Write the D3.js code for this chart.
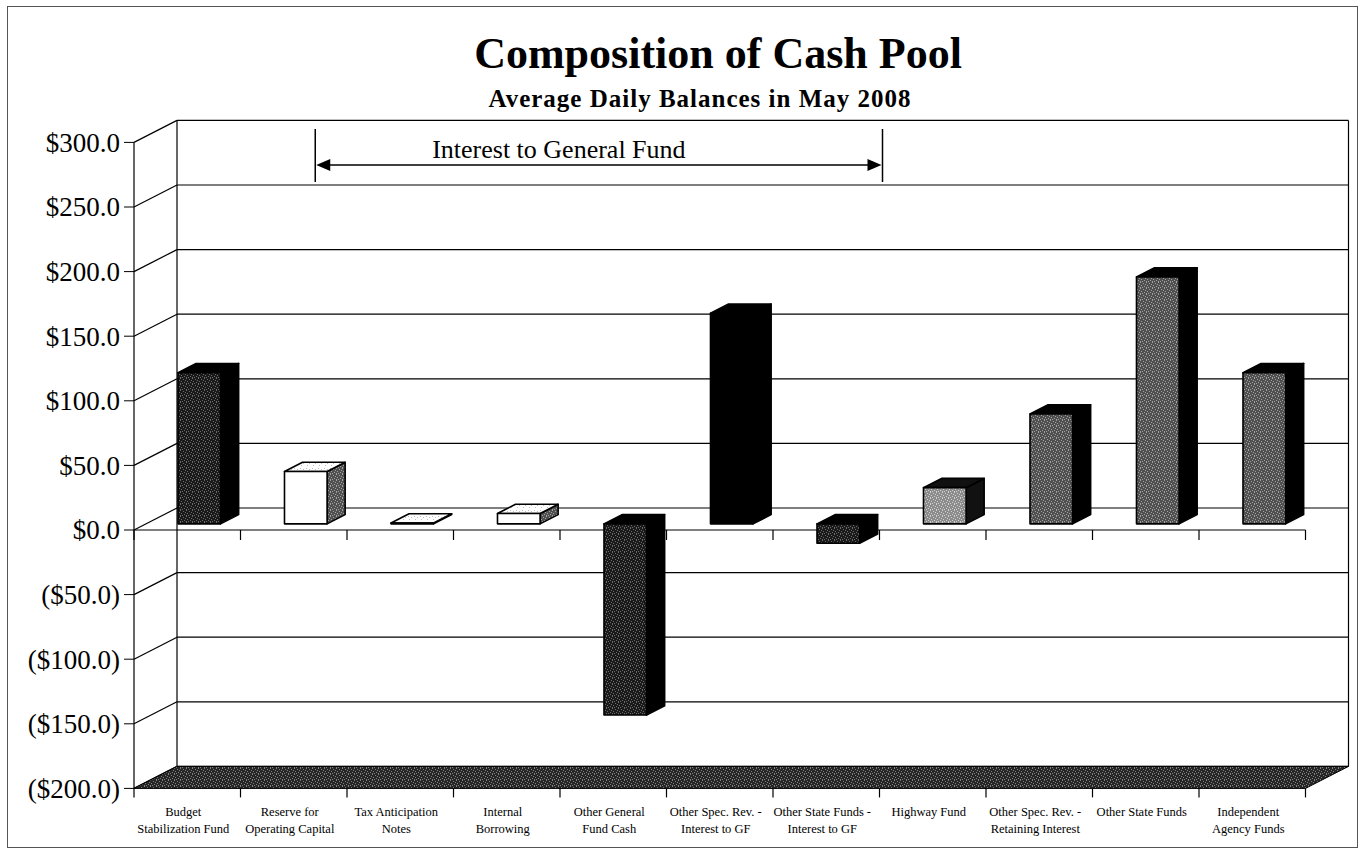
<!DOCTYPE html>
<html>
<head>
<meta charset="utf-8">
<script src="https://cdn.jsdelivr.net/npm/d3@7"></script>
<style>
  body { margin: 0; background: #fff; }
  text { font-family: "Liberation Serif", "Times New Roman", serif; fill: #000; }
</style>
</head>
<body>
<div id="chart"></div>
<script>
/* global d3 */

// ---- data (millions of dollars) ----
var categories = [
    ["Budget", "Stabilization Fund"],
    ["Reserve for", "Operating Capital"],
    ["Tax Anticipation", "Notes"],
    ["Internal", "Borrowing"],
    ["Other General", "Fund Cash"],
    ["Other Spec. Rev. -", "Interest to GF"],
    ["Other State Funds -", "Interest to GF"],
    ["Highway Fund"],
    ["Other Spec. Rev. -", "Retaining Interest"],
    ["Other State Funds"],
    ["Independent", "Agency Funds"]
];
var balances = [117, 40.5, 0.6, 8, -148, 163, -15, 28, 85, 191, 117];
var yTicks = [-200, -150, -100, -50, 0, 50, 100, 150, 200, 250, 300];

// fill styles per bar: front / top / side
var frontFill = ["dark", "#fff", "#fff", "#fff", "dark", "#000", "dark", "light", "mid", "mid", "mid"];
var topFill   = ["#000", "pale", "pale", "pale", "#000", "#000", "#000", "#111", "#000", "#000", "#000"];
var sideFill  = ["#000", "mid", "mid", "mid", "#000", "#000", "#000", "#111", "#000", "#000", "#000"];

var w = 1361,
    h = 850;

// depth of the 3d box, and where bars sit inside it
var dx = 43, dy = -22;
var f1 = 0.28, f2 = 0.70;

var svg = d3.select("#chart").append("svg")
    .attr("width", w)
    .attr("height", h);

//////// speckle textures ////////
var defs = svg.append("defs");
var speckles = {
    dark:  ["#1a1a1a", "#6a6a6a"],
    mid:   ["#505050", "#a0a0a0"],
    light: ["#8c8c8c", "#d0d0d0"],
    pale:  ["#ffffff", "#bdbdbd"],
    floor: ["#262626", "#808080"]
};
var dots = [[0, 0], [3, 1], [1, 3], [4, 4], [2, 5], [5, 2], [0, 5]];
Object.keys(speckles).forEach(function(k) {
    var p = defs.append("pattern")
        .attr("id", "sp-" + k)
        .attr("width", 6)
        .attr("height", 6)
        .attr("patternUnits", "userSpaceOnUse");
    p.append("rect").attr("width", 6).attr("height", 6).attr("fill", speckles[k][0]);
    p.selectAll("rect.dot")
        .data(k == "pale" ? dots.slice(0, 3) : dots)
        .enter().append("rect")
        .attr("class", "dot")
        .attr("x", function(d) { return d[0]; })
        .attr("y", function(d) { return d[1]; })
        .attr("width", 1)
        .attr("height", 1)
        .attr("fill", speckles[k][1]);
});
function fill(c) {
    return speckles[c] ? "url(#sp-" + c + ")" : c;
}

//////// scales ////////
var left = 134, right = 1305.5;
var edges = d3.scaleBand().domain(d3.range(categories.length)).range([left, right]);
var x = d3.scaleBand().domain(d3.range(categories.length)).range([left, right])
    .paddingInner(0.6).paddingOuter(0.3);
var y = d3.scaleLinear().domain([-200, 300]).range([788.4, 142.4]);

// outer frame
svg.append("rect")
    .attr("x", 7.5).attr("y", 6.5)
    .attr("width", 1350).attr("height", 841)
    .attr("fill", "none")
    .attr("stroke", "#555")
    .attr("stroke-width", 1);

//////// walls ////////
var wall = svg.append("g").attr("stroke", "#000").attr("stroke-width", 1.2).attr("fill", "none");

// back wall gridlines
wall.selectAll("line.grid")
    .data(yTicks)
    .enter().append("line")
    .attr("class", "grid")
    .attr("x1", left + dx).attr("x2", right + dx)
    .attr("y1", function(d) { return y(d) + dy; })
    .attr("y2", function(d) { return y(d) + dy; });

// back wall right edge + left edge
wall.append("line")
    .attr("x1", right + dx).attr("x2", right + dx)
    .attr("y1", y(300) + dy).attr("y2", y(-200) + dy);
wall.append("line")
    .attr("x1", left + dx).attr("x2", left + dx)
    .attr("y1", y(300) + dy).attr("y2", y(-200) + dy);

// side wall diagonals
wall.selectAll("line.side")
    .data(yTicks)
    .enter().append("line")
    .attr("class", "side")
    .attr("x1", left).attr("x2", left + dx)
    .attr("y1", function(d) { return y(d); })
    .attr("y2", function(d) { return y(d) + dy; });

// floor
svg.append("polygon")
    .attr("points", [
        [left, y(-200)], [left + dx, y(-200) + dy],
        [right + dx, y(-200) + dy], [right, y(-200)]
    ].join(" "))
    .attr("fill", fill("floor"))
    .attr("stroke", "#000")
    .attr("stroke-width", 1);

// value axis (front)
var yAxis = svg.append("g");
yAxis.append("line")
    .attr("x1", left).attr("x2", left)
    .attr("y1", y(300)).attr("y2", y(-200))
    .attr("stroke", "#000").attr("stroke-width", 1.2);
yAxis.selectAll("line.tick")
    .data(yTicks)
    .enter().append("line")
    .attr("class", "tick")
    .attr("x1", left - 10).attr("x2", left)
    .attr("y1", function(d) { return y(d); })
    .attr("y2", function(d) { return y(d); })
    .attr("stroke", "#000");
var money = d3.format(",.1f");
yAxis.selectAll("text")
    .data(yTicks)
    .enter().append("text")
    .attr("x", left - 14)
    .attr("y", function(d) { return y(d); })
    .attr("dy", "0.35em")
    .attr("text-anchor", "end")
    .style("font-size", "27px")
    .text(function(d) { return d < 0 ? "($" + money(-d) + ")" : "$" + money(d); });

// category axis line at zero
var xAxis = svg.append("g").attr("stroke", "#000").attr("stroke-width", 1.2);
xAxis.append("line")
    .attr("x1", left).attr("x2", right)
    .attr("y1", y(0)).attr("y2", y(0));
xAxis.selectAll("line.tick")
    .data(d3.range(categories.length + 1))
    .enter().append("line")
    .attr("class", "tick")
    .attr("x1", function(i) { return left + i * edges.step(); })
    .attr("x2", function(i) { return left + i * edges.step(); })
    .attr("y1", y(0)).attr("y2", y(0) + 10);

// ticks below floor
svg.append("g").attr("stroke", "#000").attr("stroke-width", 1.2)
    .selectAll("line")
    .data(d3.range(categories.length + 1))
    .enter().append("line")
    .attr("x1", function(i) { return left + i * edges.step(); })
    .attr("x2", function(i) { return left + i * edges.step(); })
    .attr("y1", y(-200)).attr("y2", y(-200) + 9);

//////// bars ////////
var bw = x.bandwidth();
var ox = (f2 - f1) * dx, oy = (f2 - f1) * dy;

var bars = svg.selectAll("g.bar")
    .data(balances)
    .enter().append("g")
    .attr("class", "bar")
    .attr("stroke", "#000")
    .attr("stroke-width", 1.6)
    .attr("stroke-linejoin", "round");

bars.each(function(v, i) {
    var g = d3.select(this);
    var x0 = x(i) + f1 * dx, x1 = x0 + bw;
    var yt = y(Math.max(v, 0)) + f1 * dy,
        yb = y(Math.min(v, 0)) + f1 * dy;

    g.append("polygon")
        .attr("points", [[x1, yt], [x1 + ox, yt + oy], [x1 + ox, yb + oy], [x1, yb]].join(" "))
        .attr("fill", fill(sideFill[i]));
    g.append("polygon")
        .attr("points", [[x0, yt], [x0 + ox, yt + oy], [x1 + ox, yt + oy], [x1, yt]].join(" "))
        .attr("fill", fill(topFill[i]));
    g.append("rect")
        .attr("x", x0).attr("y", yt)
        .attr("width", bw).attr("height", Math.max(yb - yt, 0.5))
        .attr("fill", fill(frontFill[i]));
});

// category labels
var labels = svg.selectAll("text.cat")
    .data(categories)
    .enter().append("text")
    .attr("class", "cat")
    .attr("text-anchor", "middle")
    .style("font-size", "12.5px")
    .attr("transform", function(d, i) {
        return "translate(" + (edges(i) + edges.bandwidth() / 2 - 4) + "," + (y(-200) + 28) + ")";
    });
labels.selectAll("tspan")
    .data(function(d) { return d; })
    .enter().append("tspan")
    .attr("x", 0)
    .attr("y", function(d, j) { return j * 17; })
    .text(function(d) { return d; });

//////// annotation ////////
var a0 = x(1) + bw / 2 + dx / 2,
    a1 = edges(7) + 3,
    ay = 165;
var ann = svg.append("g").attr("stroke", "#000").attr("stroke-width", 1.5);
ann.append("line").attr("x1", a0).attr("x2", a0).attr("y1", 129).attr("y2", 182);
ann.append("line").attr("x1", a1).attr("x2", a1).attr("y1", 129).attr("y2", 182);
ann.append("line").attr("x1", a0 + 12).attr("x2", a1 - 12).attr("y1", ay).attr("y2", ay);
ann.append("polygon")
    .attr("points", [[a0 + 1, ay], [a0 + 15, ay - 6], [a0 + 15, ay + 6]].join(" "))
    .attr("fill", "#000").attr("stroke", "none");
ann.append("polygon")
    .attr("points", [[a1 - 1, ay], [a1 - 15, ay - 6], [a1 - 15, ay + 6]].join(" "))
    .attr("fill", "#000").attr("stroke", "none");
svg.append("text")
    .attr("x", (a0 + a1) / 2 - 40)
    .attr("y", 158)
    .attr("text-anchor", "middle")
    .style("font-size", "26px")
    .text("Interest to General Fund");

//////// titles ////////
svg.append("text")
    .attr("x", 718)
    .attr("y", 68)
    .attr("text-anchor", "middle")
    .style("font-size", "44px")
    .style("font-weight", "bold")
    .text("Composition of Cash Pool");
svg.append("text")
    .attr("x", 700)
    .attr("y", 107)
    .attr("text-anchor", "middle")
    .style("font-size", "25px")
    .style("font-weight", "bold")
    .style("letter-spacing", "1px")
    .text("Average Daily Balances in May 2008");
</script>
</body>
</html>
